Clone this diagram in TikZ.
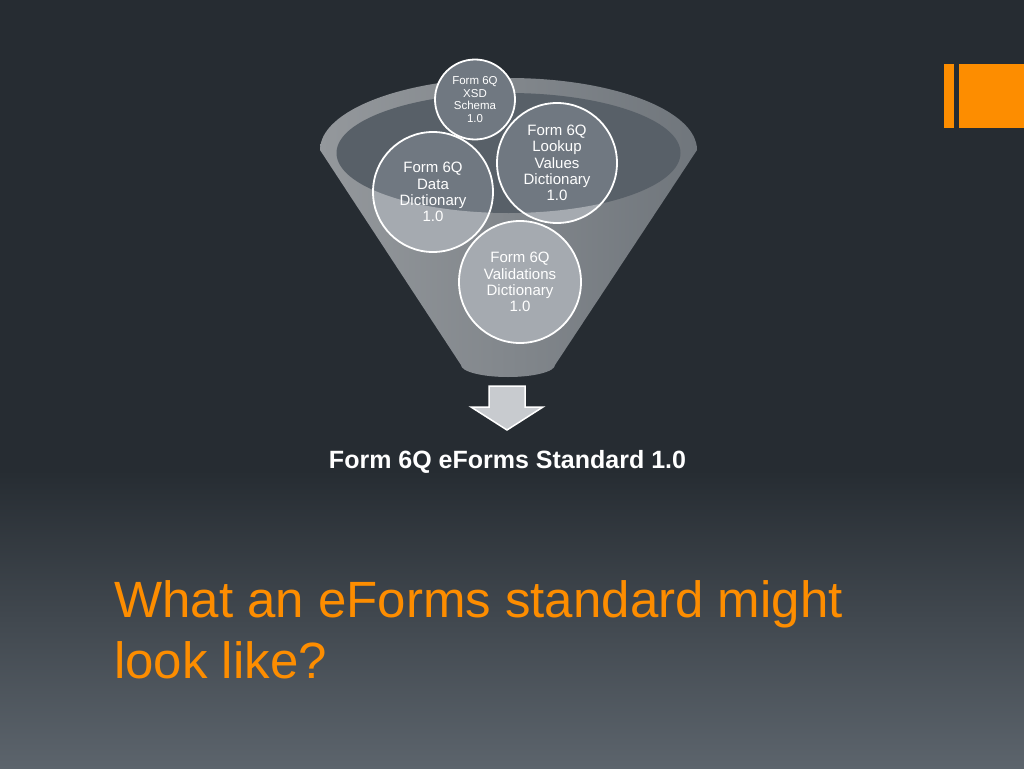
\documentclass[tikz,border=0pt]{standalone}
\usepackage{fontspec}
\setmainfont{Liberation Sans}
\definecolor{bgdark}{RGB}{38,44,50}
\definecolor{bglight}{RGB}{92,100,108}
\definecolor{orng}{RGB}{253,141,0}
\definecolor{conel}{RGB}{148,152,156}
\definecolor{coner}{RGB}{112,118,124}
\definecolor{innerc}{RGB}{88,96,104}
\definecolor{bubback}{RGB}{112,120,129}
\definecolor{bubfront}{RGB}{165,170,176}
\definecolor{arrowfill}{RGB}{200,203,207}
\begin{document}
\begin{tikzpicture}[x=1pt,y=-1pt,
  bubble/.style={circle, draw=white, line width=1.8pt, text=white, align=center, inner sep=0pt},
  smalltxt/.style={font=\fontsize{11.5}{12.4}\selectfont},
  bigtxt/.style={font=\fontsize{15}{16.2}\selectfont}]
\useasboundingbox (0,0) rectangle (1024,768);
% background
\fill[bgdark] (0,0) rectangle (1024,471);
\shade[top color=bgdark, bottom color=bglight] (0,470) rectangle (1024,768);
% orange bars
\fill[orng] (944,64) rectangle (954,128);
\fill[orng] (959,64) rectangle (1024,128);
% funnel
\shade[left color=conel, right color=coner] (320,150) -- (461,365)
  arc[start angle=180,end angle=360,x radius=47pt,y radius=12pt]
  -- (697,150) arc[start angle=0,end angle=180,x radius=188.5pt,y radius=72pt] -- cycle;
\fill[innerc] (508.5,153) ellipse[x radius=172pt, y radius=60pt];
% bubble centres
\coordinate (cx) at (475,99.5);
\coordinate (cl) at (557,163);
\coordinate (cd) at (433,192);
\coordinate (cv) at (520,282);
\fill[bubback] (cx) circle[radius=40pt];
\fill[bubback] (cl) circle[radius=60pt];
\fill[bubback] (cd) circle[radius=60pt];
\fill[bubback] (cv) circle[radius=61pt];
% front of funnel
\begin{scope}
\clip (320,150) -- (461,365)
  arc[start angle=180,end angle=360,x radius=47pt,y radius=12pt]
  -- (697,150) -- cycle;
\begin{scope}[even odd rule]
\clip (0,0) rectangle (1024,768) (508.5,153) ellipse[x radius=172pt, y radius=60pt];
\fill[bubfront] (cl) circle[radius=60pt];
\fill[bubfront] (cd) circle[radius=60pt];
\fill[bubfront] (cv) circle[radius=61pt];
\end{scope}
\end{scope}
% bubbles
\node[bubble, smalltxt, minimum size=80pt] (xsd) at (cx) {Form 6Q\\XSD\\Schema\\1.0};
\node[bubble, bigtxt, minimum size=120pt] (lookup) at (cl) {Form 6Q\\Lookup\\Values\\Dictionary\\1.0};
\node[bubble, bigtxt, minimum size=120pt] (data) at (cd) {Form 6Q\\Data\\Dictionary\\1.0};
\node[bubble, bigtxt, minimum size=122pt] (valid) at (cv) {Form 6Q\\Validations\\Dictionary\\1.0};
% arrow
\draw[fill=arrowfill, draw=white, line width=1.5pt, line join=miter]
  (489,386) -- (525,386) -- (525,407) -- (543,407) -- (507,430) -- (471,407) -- (489,407) -- cycle;
% labels
\node[anchor=base, text=white, font=\bfseries\fontsize{25}{30}\selectfont] (std) at (507.5,468) {Form 6Q eForms Standard 1.0};
\node[anchor=north west, inner sep=0pt, text=orng, align=left, font=\fontsize{51}{61}\selectfont] (title) at (114,580) {What an eForms standard might\\look like?};
\end{tikzpicture}
\end{document}
